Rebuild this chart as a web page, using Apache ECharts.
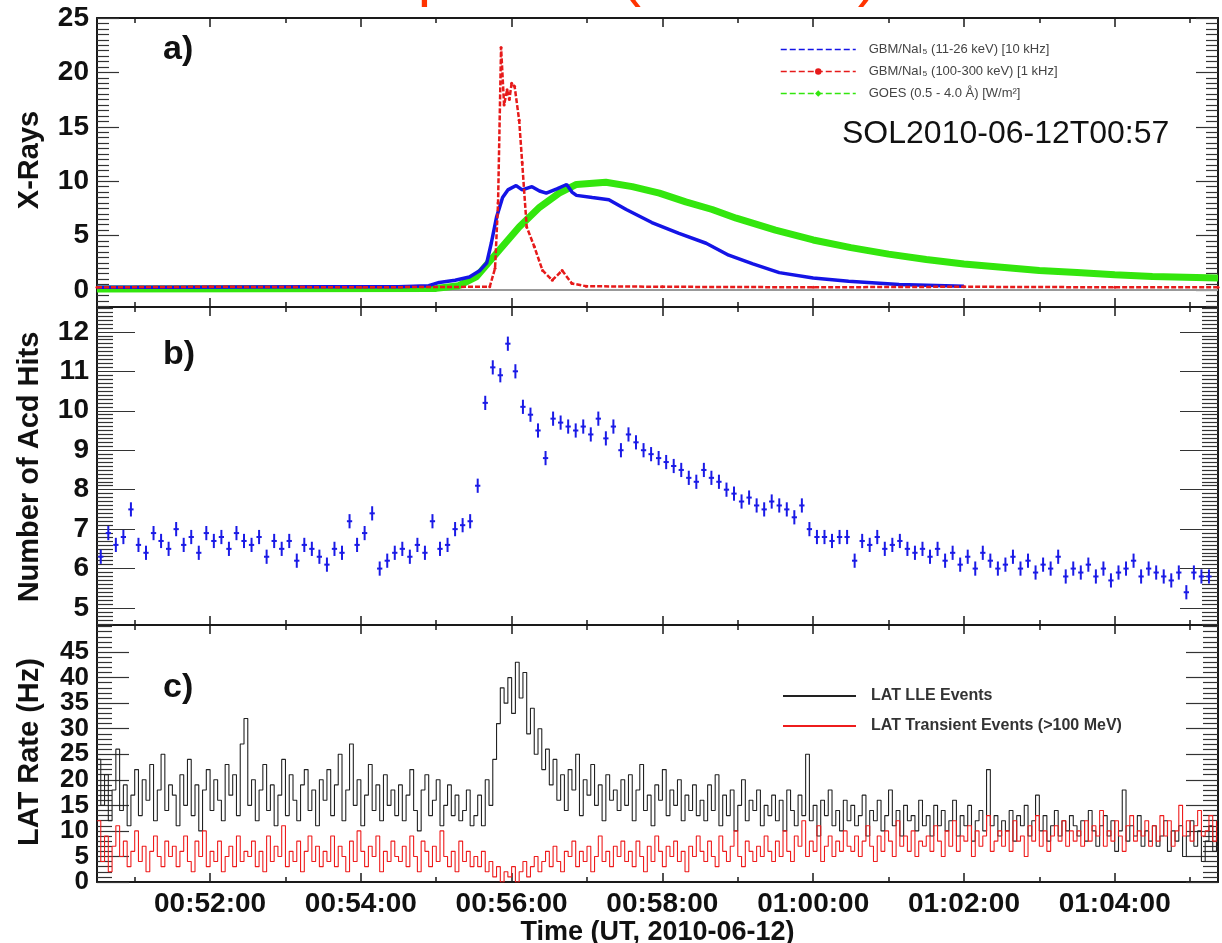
<!DOCTYPE html>
<html>
<head>
<meta charset="utf-8">
<script src="https://cdn.jsdelivr.net/npm/echarts@6/dist/echarts.min.js"></script>
<style>
html,body{margin:0;padding:0;background:#fff}
#main{width:1222px;height:943px}
</style>
</head>
<body>
<div id="main"></div>
<script>
// time is in minutes after 00:00 UT
var xMin = 50.5, xMax = 65.37;
var timeLabels = [52, 54, 56, 58, 60, 62, 64];
var timeMinor = [51, 53, 55, 57, 59, 61, 63, 65];

// panel a : X-rays
var gbmLow = [[50.5,0.25],[51.5,0.25],[52.5,0.28],[53.5,0.3],[54.5,0.3],[54.9,0.4],[55.04,0.7],[55.25,0.9],[55.44,1.2],[55.58,1.8],[55.67,2.5],[55.73,4.3],[55.80,6.7],[55.88,8.5],[55.95,9.2],[56.06,9.6],[56.14,9.2],[56.27,9.5],[56.37,9.1],[56.46,8.9],[56.6,9.3],[56.73,9.7],[56.80,9.0],[56.86,8.7],[57.07,8.5],[57.29,8.3],[57.52,7.4],[57.86,6.2],[58.22,5.2],[58.58,4.3],[58.88,3.2],[59.2,2.4],[59.55,1.6],[60.0,1.1],[60.47,0.8],[61.14,0.5],[62.0,0.35]];
var gbmHigh = [[50.5,0.25],[52,0.3],[54,0.25],[55.71,0.3],[55.78,2],[55.82,8],[55.86,22.3],[55.9,17],[55.94,18.4],[55.97,17.5],[56.0,19],[56.04,18.7],[56.10,15.6],[56.14,11.7],[56.2,5.8],[56.3,4.0],[56.41,1.8],[56.54,0.9],[56.67,1.8],[56.8,0.6],[56.99,0.35],[58,0.3],[60,0.25],[62,0.3],[64,0.25],[65.37,0.25]];
var goes = [[50.5,0.1],[55.0,0.15],[55.3,0.4],[55.53,1.2],[55.84,3.7],[56.10,5.8],[56.37,7.6],[56.63,8.9],[56.86,9.7],[57.25,9.9],[57.60,9.5],[57.96,8.9],[58.31,8.1],[58.66,7.4],[58.98,6.6],[59.5,5.5],[60.0,4.6],[60.5,3.9],[61.0,3.3],[61.5,2.8],[62,2.4],[62.5,2.1],[63,1.8],[63.5,1.6],[64,1.4],[64.5,1.25],[65.37,1.1]];
var zeroLine = [[50.5,0],[65.37,0]];

// panel b : ACD hits, 6 s bins
var acdStart = 50.55, acdBin = 0.1, acdErr = 0.18;
var acdHits = [
  6.3,6.9,6.6,6.8,7.5,6.6,6.4,6.9,6.7,6.5,
  7.0,6.6,6.8,6.4,6.9,6.7,6.8,6.5,6.9,6.7,
  6.6,6.8,6.3,6.7,6.5,6.7,6.2,6.6,6.5,6.3,
  6.1,6.5,6.4,7.2,6.6,6.9,7.4,6.0,6.2,6.4,
  6.5,6.3,6.6,6.4,7.2,6.5,6.6,7.0,7.1,7.2,
  8.1,10.2,11.1,10.9,11.7,11.0,10.1,9.9,9.5,8.8,
  9.8,9.7,9.6,9.5,9.6,9.4,9.8,9.3,9.6,9.0,
  9.4,9.2,9.0,8.9,8.8,8.7,8.6,8.5,8.3,8.2,
  8.5,8.3,8.2,8.0,7.9,7.7,7.8,7.6,7.5,7.7,
  7.6,7.5,7.3,7.6,7.0,6.8,6.8,6.7,6.8,6.8,
  6.2,6.7,6.6,6.8,6.5,6.6,6.7,6.5,6.4,6.5,
  6.3,6.5,6.2,6.4,6.1,6.3,6.0,6.4,6.2,6.0,
  6.1,6.3,6.0,6.2,5.9,6.1,6.0,6.3,5.8,6.0,
  5.9,6.1,5.8,6.0,5.7,5.9,6.0,6.2,5.8,6.0,
  5.9,5.8,5.7,5.9,5.4,5.9,5.8,5.8
];

// panel c : LAT rates, 3 s bins
var latStart = 50.5, latBin = 0.05;
var lleRate = [
  24,15,21,12,18,26,14,19,11,17,22,13,20,16,23,12,18,25,14,19,
  17,11,21,15,24,13,19,10,18,22,14,20,16,12,23,17,21,13,27,32,
  15,20,12,18,23,14,19,11,17,24,13,21,16,12,19,22,14,18,11,20,
  16,22,13,19,25,12,18,27,15,20,11,17,23,14,19,12,21,15,18,13,
  19,12,17,22,14,10,18,21,13,16,20,11,15,19,13,17,12,14,18,11,
  13,17,11,20,15,24,31,38,35,40,33,43,36,41,29,34,25,30,22,26,
  19,24,16,21,14,22,18,25,13,20,17,23,15,19,12,21,16,18,14,20,
  15,21,12,18,23,14,17,11,19,16,22,13,18,15,20,12,17,14,19,13,
  16,12,19,14,21,11,17,13,18,10,15,20,12,16,14,18,11,15,13,17,
  12,16,10,18,14,11,17,13,25,12,15,9,16,13,18,11,14,10,16,12,
  15,11,13,17,9,14,12,16,10,13,18,11,14,9,15,12,13,10,16,11,
  13,9,15,11,14,10,12,16,9,13,11,15,8,12,14,10,22,11,13,9,
  12,10,14,8,13,11,15,9,12,17,10,13,8,11,14,9,12,10,13,11,
  9,12,8,14,10,7,11,13,9,12,6,10,18,8,11,9,13,7,10,8,
  11,7,9,12,6,10,8,11,5,9,12,7,10,4,8,11,6,9
];
var transRate = [
  12,4,9,2,7,11,5,8,3,6,10,4,7,2,6,9,5,3,8,5,
  7,3,6,9,4,2,8,5,10,3,6,4,8,2,5,7,3,9,4,6,
  5,8,3,6,2,9,4,7,5,11,3,6,4,8,2,6,9,4,7,3,
  6,4,9,3,7,5,2,8,4,10,6,3,7,5,9,2,6,4,8,5,
  4,7,3,9,5,2,8,6,3,7,4,10,5,3,6,2,8,4,6,3,
  5,3,6,2,4,1,3,0,2,1,3,0,2,4,1,3,5,2,4,6,
  3,7,4,2,6,5,8,3,6,4,7,2,5,9,4,6,3,7,5,8,
  4,6,3,8,5,2,7,4,9,6,3,7,5,8,4,6,2,7,5,9,
  6,4,8,5,3,9,6,4,7,10,5,3,8,6,4,7,5,9,6,4,
  8,5,10,6,4,9,7,12,5,8,6,11,4,7,9,5,8,6,10,7,
  6,9,5,8,11,7,4,9,6,10,8,5,12,7,9,6,10,5,8,7,
  9,6,11,8,5,10,7,12,6,9,8,11,5,10,7,9,13,6,8,10,
  7,10,6,12,8,9,5,11,8,13,7,10,6,9,11,8,12,7,10,8,
  10,7,12,8,11,9,14,7,10,8,12,9,6,11,13,8,10,9,12,7,
  11,8,13,9,12,7,10,15,9,12,8,11,14,9,10,13,8,12
];

var acdData = acdHits.map(function (v, i) { return [acdStart + i * acdBin, v, acdErr]; });
var lleData = lleRate.map(function (v, i) { return [latStart + i * latBin, v]; });
var transData = transRate.map(function (v, i) { return [latStart + i * latBin, v]; });

function pad(n) { return (n < 10 ? '0' : '') + n; }
function clock(m) { return pad(Math.floor(m / 60)) + ':' + pad(Math.round(m % 60)) + ':00'; }
function steps(a, b, s, skip) {
    var out = [];
    for (var v = a; v <= b + 1e-9; v += s) {
        var r = Math.round(v * 100) / 100;
        if (!skip || skip.indexOf(r) < 0) out.push(r);
    }
    return out;
}

var FONT = 'Liberation Sans, Arial, sans-serif';
var frame = '#1a1a1a';

var grids = [
    {left: 97, right: 4, top: 18, height: 289, outerBoundsMode: 'none'},
    {left: 97, right: 4, top: 307, height: 318, outerBoundsMode: 'none'},
    {left: 97, right: 4, top: 625, height: 257, outerBoundsMode: 'none'}
];
var yRange = [[-1.56, 25], [4.57, 12.63], [0, 50.3]];
var yMajor = [steps(0, 25, 5), steps(5, 12, 1), steps(0, 45, 5)];
var yMinor = [steps(-1.5, 25, 0.5, yMajor[0]), steps(4.6, 12.6, 0.1, yMajor[1]), steps(1, 50, 1, yMajor[2])];
// labels split over two axes so that close neighbours are not dropped
var yLabelsA = [steps(0, 25, 5), steps(5, 12, 1), steps(0, 40, 10)];
var yLabelsB = [[], [], steps(5, 45, 10)];
var yTickLen = [[22, 12], [38, 16], [32, 15]];
var yFont = [28, 28, 26];

var xAxes = [], yAxes = [];
for (var g = 0; g < 3; g++) {
    ['bottom', 'top'].forEach(function (pos) {
        [[timeLabels, 9], [timeMinor, 5]].forEach(function (t, k) {
            var main = g === 2 && pos === 'bottom' && k === 0;
            xAxes.push({
                type: 'value', gridIndex: g, position: pos, min: xMin, max: xMax,
                axisLine: {show: k === 0, onZero: false, lineStyle: {color: frame, width: 2}},
                axisTick: {show: true, inside: true, length: t[1], customValues: t[0], lineStyle: {color: frame, width: 1.5}},
                axisLabel: {show: main, customValues: timeLabels, formatter: clock,
                    fontFamily: FONT, fontWeight: 'bold', fontSize: 28, color: '#111', margin: 8},
                splitLine: {show: false},
                name: main ? 'Time (UT, 2010-06-12)' : '',
                nameLocation: 'middle', nameGap: 29,
                nameTextStyle: {fontFamily: FONT, fontWeight: 'bold', fontSize: 27, color: '#111'}
            });
        });
    });
    ['left', 'right'].forEach(function (pos) {
        [[yMajor[g], yTickLen[g][0], yLabelsA[g]], [yMinor[g], yTickLen[g][1], yLabelsB[g]]].forEach(function (t, k) {
            yAxes.push({
                type: 'value', gridIndex: g, position: pos, min: yRange[g][0], max: yRange[g][1],
                axisLine: {show: k === 0, onZero: false, lineStyle: {color: frame, width: 2}},
                axisTick: {show: true, inside: true, length: t[1], customValues: t[0], lineStyle: {color: '#333', width: 1.2}},
                axisLabel: {show: pos === 'left' && t[2].length > 0, customValues: t[2],
                    showMinLabel: true, showMaxLabel: true, hideOverlap: false,
                    fontFamily: FONT, fontWeight: 'bold', fontSize: yFont[g],
                    color: '#111', margin: 8},
                splitLine: {show: false}
            });
        });
    });
}

var titleStyle = {fontFamily: FONT, fontWeight: 'bold', fontSize: 29, fill: '#111'};
function yTitle(text, cy) {
    return {type: 'text', x: 30, y: cy, rotation: Math.PI / 2,
        style: Object.assign({text: text, align: 'center', verticalAlign: 'middle'}, titleStyle)};
}
function panelTag(text, top) {
    return {type: 'text', x: 163, y: top,
        style: {text: text, fontFamily: FONT, fontWeight: 'bold', fontSize: 34, fill: '#111', verticalAlign: 'top'}};
}

var nameLow = 'GBM/NaI\u2085 (11-26 keV) [10 kHz]';
var nameHigh = 'GBM/NaI\u2085 (100-300 keV) [1 kHz]';
var nameGoes = 'GOES (0.5 - 4.0 \u00c5) [W/m\u00b2]';

var option = {
    animation: false,
    backgroundColor: '#fff',
    grid: grids,
    xAxis: xAxes,
    yAxis: yAxes,
    legend: [
        {
            left: 775, top: 38, orient: 'vertical', itemWidth: 75, itemHeight: 8, itemGap: 9,
            selectedMode: false,
            textStyle: {fontFamily: FONT, fontSize: 13, color: '#444', padding: [0, 0, 0, 8]},
            data: [
                {name: nameLow, lineStyle: {type: 'dashed', width: 1.5}, itemStyle: {opacity: 0}},
                {name: nameHigh, lineStyle: {type: 'dashed', width: 1.5}},
                {name: nameGoes, lineStyle: {type: 'dashed', width: 1.5}}
            ]
        },
        {
            left: 777, top: 683, orient: 'vertical', itemWidth: 73, itemHeight: 10, itemGap: 14,
            selectedMode: false,
            textStyle: {fontFamily: FONT, fontWeight: 'bold', fontSize: 16, color: '#333', padding: [0, 0, 0, 10]},
            data: [
                {name: 'LAT LLE Events', lineStyle: {width: 2}, itemStyle: {opacity: 0}},
                {name: 'LAT Transient Events (>100 MeV)', lineStyle: {width: 2}, itemStyle: {opacity: 0}}
            ]
        }
    ],
    graphic: [
        {type: 'text', x: 351, y: 8,
            style: {text: 'Impulsive (M2 flare)', fontFamily: FONT, fontSize: 60, fill: '#ff3300', verticalAlign: 'bottom'}},
        yTitle('X-Rays', 160),
        yTitle('Number of Acd Hits', 467),
        yTitle('LAT Rate (Hz)', 752),
        panelTag('a)', 33),
        panelTag('b)', 338),
        panelTag('c)', 671),
        {type: 'text', x: 842, y: 134,
            style: {text: 'SOL2010-06-12T00:57', fontFamily: FONT, fontSize: 32, fill: '#111', verticalAlign: 'middle'}}
    ],
    series: [
        {type: 'line', name: 'zero', xAxisIndex: 0, yAxisIndex: 0, data: zeroLine, symbol: 'none',
            lineStyle: {color: '#999', width: 2}, silent: true},
        {type: 'line', name: nameGoes, xAxisIndex: 0, yAxisIndex: 0, data: goes,
            symbol: 'diamond', symbolSize: 7, showSymbol: false, color: '#33e60d',
            lineStyle: {color: '#33e60d', width: 7}},
        {type: 'line', name: nameLow, xAxisIndex: 0, yAxisIndex: 0, data: gbmLow,
            symbol: 'none', color: '#1414e6', lineStyle: {color: '#1414e6', width: 3.5}},
        {type: 'line', name: nameHigh, xAxisIndex: 0, yAxisIndex: 0, data: gbmHigh,
            symbol: 'circle', symbolSize: 3, color: '#e61a1a',
            lineStyle: {color: '#e61a1a', width: 2.5, type: [5, 2]}},
        {type: 'custom', name: 'acd', xAxisIndex: 4, yAxisIndex: 4, data: acdData,
            encode: {x: 0, y: 1},
            renderItem: function (params, api) {
                var t = api.value(0), v = api.value(1), e = api.value(2);
                var a = api.coord([t, v - e]), b = api.coord([t, v + e]);
                var l = api.coord([t - acdBin * 0.35, v]), r = api.coord([t + acdBin * 0.35, v]);
                var st = {stroke: '#1a1ae6', lineWidth: 2};
                return {type: 'group', children: [
                    {type: 'line', shape: {x1: a[0], y1: a[1], x2: b[0], y2: b[1]}, style: st},
                    {type: 'line', shape: {x1: l[0], y1: l[1], x2: r[0], y2: r[1]}, style: st}
                ]};
            }},
        {type: 'line', name: 'LAT LLE Events', xAxisIndex: 8, yAxisIndex: 8, data: lleData,
            step: 'end', symbol: 'none', color: '#222', lineStyle: {color: '#222', width: 1.1}},
        {type: 'line', name: 'LAT Transient Events (>100 MeV)', xAxisIndex: 8, yAxisIndex: 8, data: transData,
            step: 'end', symbol: 'none', color: '#ee1c1c', lineStyle: {color: '#ee1c1c', width: 1.1}}
    ]
};

var chart = echarts.init(document.getElementById('main'));
chart.setOption(option);
</script>
</body>
</html>
